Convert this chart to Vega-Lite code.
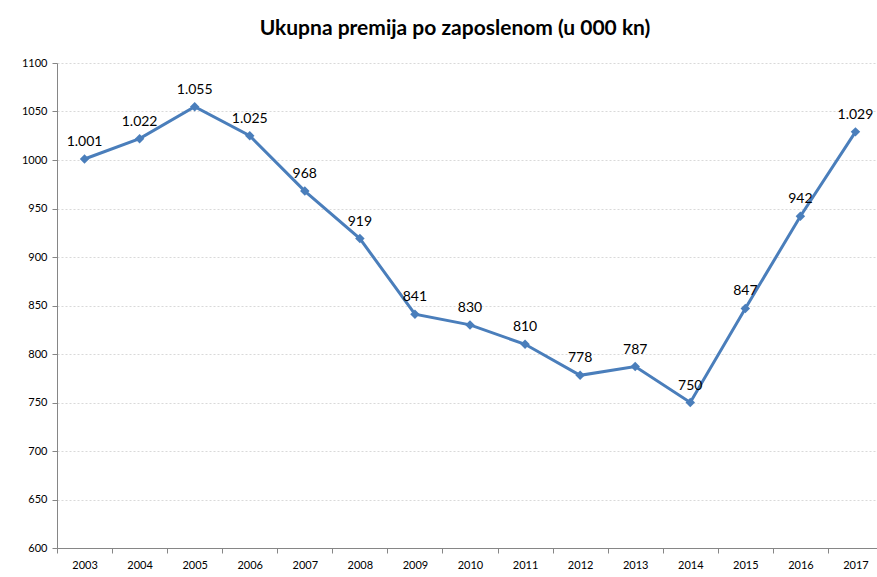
{
  "$schema": "https://vega.github.io/schema/vega-lite/v6.json",
  "autosize": "none",
  "width": 826,
  "height": 485,
  "padding": {"left": 57, "top": 63, "right": 0, "bottom": 29},
  "background": "white",
  "config": {
    "locale": {"number": {"decimal": ",", "thousands": ".", "grouping": [3], "currency": ["", " kn"]}},
    "font": "Lato",
    "view": {"stroke": null}
  },
  "title": {
    "text": "Ukupna premija po zaposlenom (u 000 kn)",
    "font": "Lato",
    "fontSize": 21,
    "fontWeight": "bold",
    "color": "black",
    "anchor": "middle",
    "dx": -15,
    "offset": 18
  },
  "data": {
    "values": [
      {"year": "2003", "value": 1001},
      {"year": "2004", "value": 1022},
      {"year": "2005", "value": 1055},
      {"year": "2006", "value": 1025},
      {"year": "2007", "value": 968},
      {"year": "2008", "value": 919},
      {"year": "2009", "value": 841},
      {"year": "2010", "value": 830},
      {"year": "2011", "value": 810},
      {"year": "2012", "value": 778},
      {"year": "2013", "value": 787},
      {"year": "2014", "value": 750},
      {"year": "2015", "value": 847},
      {"year": "2016", "value": 942},
      {"year": "2017", "value": 1029}
    ]
  },
  "encoding": {
    "x": {
      "field": "year",
      "type": "ordinal",
      "scale": {"type": "band", "paddingInner": 0, "paddingOuter": 0},
      "axis": {
        "title": null,
        "labelAngle": 0,
        "labelFontSize": 11,
        "labelColor": "black",
        "labelPadding": 6,
        "domainColor": "#868686",
        "tickColor": "#868686",
        "tickBand": "extent",
        "tickSize": 5,
        "grid": false
      }
    },
    "y": {
      "field": "value",
      "type": "quantitative",
      "scale": {"domain": [600, 1100], "nice": false, "zero": false},
      "axis": {
        "title": null,
        "values": [600, 650, 700, 750, 800, 850, 900, 950, 1000, 1050, 1100],
        "format": "d",
        "labelFontSize": 11,
        "labelColor": "black",
        "labelPadding": 5,
        "domainColor": "#868686",
        "tickColor": "#868686",
        "tickSize": 5,
        "grid": true,
        "gridColor": "#d9d9d9",
        "gridDash": [2, 2],
        "gridWidth": 1
      }
    }
  },
  "layer": [
    {
      "mark": {"type": "line", "color": "#4a7ebb", "strokeWidth": 3}
    },
    {
      "mark": {"type": "point", "shape": "diamond", "filled": true, "color": "#4a7ebb", "size": 90, "opacity": 1}
    },
    {
      "mark": {"type": "text", "baseline": "bottom", "dy": -10, "fontSize": 14, "color": "black", "font": "Lato"},
      "encoding": {
        "text": {"field": "value", "type": "quantitative", "format": ",d"}
      }
    }
  ]
}
